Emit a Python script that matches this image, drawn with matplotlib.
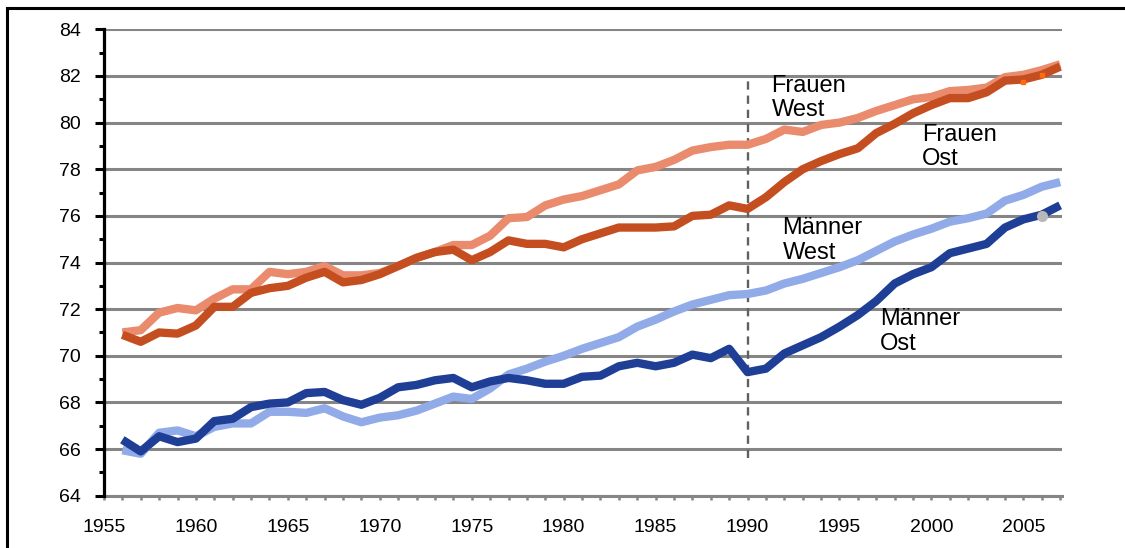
import matplotlib
matplotlib.use("Agg")
import matplotlib.pyplot as plt
from matplotlib.lines import Line2D
from matplotlib.ticker import MultipleLocator

plt.rcParams['font.family'] = ['Liberation Sans', 'DejaVu Sans']

# Lebenserwartung bei Geburt, West- und Ostdeutschland
jahre = list(range(1956, 2008))

frauen_west = [71.0, 71.1, 71.85, 72.05, 71.95, 72.45, 72.85, 72.85, 73.6, 73.5,
               73.6, 73.85, 73.45, 73.45, 73.55, 73.85, 74.2, 74.45, 74.75, 74.75,
               75.15, 75.9, 75.95, 76.45, 76.7, 76.85, 77.1, 77.35, 77.95, 78.1,
               78.4, 78.8, 78.95, 79.05, 79.05, 79.3, 79.7, 79.6, 79.9, 80.0,
               80.2, 80.5, 80.75, 81.0, 81.1, 81.35, 81.4, 81.5, 81.95, 82.05,
               82.25, 82.5]
frauen_ost = [70.9, 70.6, 71.0, 70.95, 71.3, 72.1, 72.1, 72.7, 72.9, 73.0,
              73.35, 73.6, 73.15, 73.25, 73.5, 73.85, 74.2, 74.45, 74.55, 74.1,
              74.45, 74.95, 74.8, 74.8, 74.65, 75.0, 75.25, 75.5, 75.5, 75.5,
              75.55, 76.0, 76.05, 76.45, 76.3, 76.8, 77.45, 78.0, 78.35, 78.65,
              78.9, 79.55, 79.95, 80.4, 80.75, 81.05, 81.05, 81.3, 81.8, 81.85,
              82.05, 82.4]
maenner_west = [65.95, 65.8, 66.7, 66.8, 66.55, 66.95, 67.1, 67.1, 67.6, 67.6,
                67.55, 67.75, 67.4, 67.15, 67.35, 67.45, 67.65, 67.95, 68.25, 68.15,
                68.6, 69.2, 69.45, 69.75, 70.0, 70.3, 70.55, 70.8, 71.25, 71.55,
                71.9, 72.2, 72.4, 72.6, 72.65, 72.8, 73.1, 73.3, 73.55, 73.8,
                74.1, 74.5, 74.9, 75.2, 75.45, 75.75, 75.9, 76.1, 76.65, 76.9,
                77.25, 77.45]
maenner_ost = [66.4, 65.9, 66.55, 66.3, 66.45, 67.2, 67.3, 67.8, 67.95, 68.0,
               68.4, 68.45, 68.1, 67.9, 68.2, 68.65, 68.75, 68.95, 69.05, 68.65,
               68.9, 69.05, 68.95, 68.8, 68.8, 69.1, 69.15, 69.55, 69.7, 69.55,
               69.7, 70.05, 69.9, 70.3, 69.3, 69.45, 70.1, 70.45, 70.8, 71.25,
               71.75, 72.35, 73.1, 73.5, 73.8, 74.4, 74.6, 74.8, 75.5, 75.85,
               76.05, 76.45]

# einzelne Punkte am Ende
punkte_frauen_jahre = [2005, 2006]
punkte_frauen_werte = [81.75, 82.05]
punkte_maenner_jahre = [2006]
punkte_maenner_werte = [76.0]

wende = 1990

fig = plt.figure(figsize=(11.25, 5.48), dpi=100)
ax = fig.add_axes([0.0924, 0.0954, 0.8516, 0.8511])

ax.set_xlim(1955, 2007.1)
ax.set_ylim(64, 84)

ax.yaxis.set_major_locator(MultipleLocator(2))
ax.yaxis.set_minor_locator(MultipleLocator(1))
ax.xaxis.set_major_locator(MultipleLocator(5))
ax.xaxis.set_minor_locator(MultipleLocator(1))

ax.grid(axis='y', which='major', color='#858585', lw=2.2, zorder=1)
ax.set_axisbelow(True)

for s in ['top', 'right']:
    ax.spines[s].set_visible(False)
ax.spines['left'].set_color('black')
ax.spines['left'].set_linewidth(2.3)
ax.spines['left'].set_zorder(5)
ax.spines['bottom'].set_color('#858585')
ax.spines['bottom'].set_linewidth(2.2)

ax.tick_params(axis='y', which='major', length=6.5, width=2.2, color='black',
               labelsize=14, pad=10)
ax.tick_params(axis='y', which='minor', length=3.5, width=2.2, color='black')
ax.tick_params(axis='x', which='both', length=3, width=1.8, color='#858585',
               labelsize=14, pad=14)

stil = dict(lw=6, solid_capstyle='butt', solid_joinstyle='round')
ax.plot(jahre, frauen_west, color='#E98B6C', zorder=3, **stil)
ax.plot(jahre, maenner_west, color='#91ABE9', zorder=3, **stil)
ax.plot(jahre, frauen_ost, color='#C44E20', zorder=4, **stil)
ax.plot(jahre, maenner_ost, color='#1F3E96', zorder=4, **stil)

ax.plot(punkte_frauen_jahre, punkte_frauen_werte, ls='none', marker='s', ms=3.5,
        color='#FF6A10', zorder=6)
ax.plot(punkte_maenner_jahre, punkte_maenner_werte, ls='none', marker='o', ms=7,
        color='#B8B8B8', zorder=6)

ax.plot([wende, wende], [65.6, 81.8], color='#606060', lw=1.7,
        ls=(0, (3.5, 2.5)), zorder=2)

lab = dict(fontsize=17, color='black', ha='left', va='center', linespacing=1.15, zorder=7)
ax.text(1991.3, 81.05, 'Frauen\nWest', **lab)
ax.text(1999.5, 78.95, 'Frauen\nOst', **lab)
ax.text(1991.9, 74.95, 'Männer\nWest', **lab)
ax.text(1997.2, 71.05, 'Männer\nOst', **lab)

# Rahmen (oben und links)
fig.add_artist(Line2D([7 / 1125, 1], [1 - 8 / 548, 1 - 8 / 548], color='black', lw=2.2))
fig.add_artist(Line2D([7 / 1125, 7 / 1125], [0, 1 - 8 / 548], color='black', lw=2.2))

fig.savefig('out.png', dpi=100)
